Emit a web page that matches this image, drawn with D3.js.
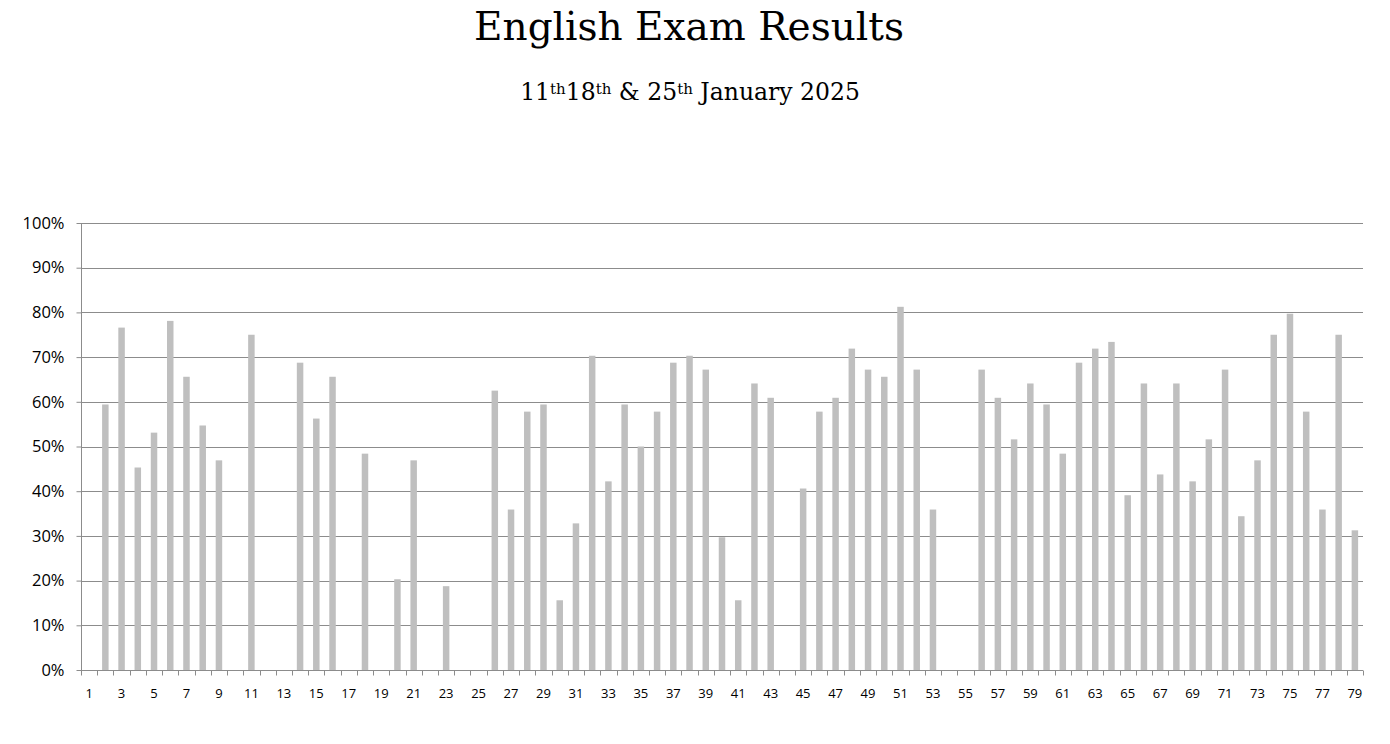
<!DOCTYPE html>
<meta charset="utf-8">
<style>
body { margin: 0; background: #fff; }
.title { font-family: 'DejaVu Serif', serif; font-size: 39px; }
.subtitle { font-family: 'DejaVu Serif', serif; font-size: 23.5px; }
.axis text { font-family: 'Open Sans', 'Liberation Sans', sans-serif; fill: #000; }
</style>
<script src="https://d3js.org/d3.v7.min.js"></script>
<div id="chart"></div>
<script>

// candidate numbers 1..79
var candidates = d3.range(1, 80).map(String);

// score as a fraction (0 = no result)
var scores = [
  0, 0.594, 0.766, 0.453, 0.531, 0.781, 0.656, 0.547, 0.469, 0,
  0.75, 0, 0, 0.6875, 0.5625, 0.656, 0, 0.484, 0, 0.203,
  0.469, 0, 0.1875, 0, 0, 0.625, 0.359, 0.578, 0.594, 0.156,
  0.328, 0.703, 0.422, 0.594, 0.50, 0.578, 0.6875, 0.703, 0.672, 0.297,
  0.156, 0.641, 0.609, 0, 0.406, 0.578, 0.609, 0.719, 0.672, 0.656,
  0.8125, 0.672, 0.359, 0, 0, 0.672, 0.609, 0.516, 0.641, 0.594,
  0.484, 0.6875, 0.719, 0.734, 0.391, 0.641, 0.4375, 0.641, 0.422, 0.516,
  0.672, 0.344, 0.469, 0.75, 0.797, 0.578, 0.359, 0.75, 0.3125
];

var yTicks = [0, 0.1, 0.2, 0.3, 0.4, 0.5, 0.6, 0.7, 0.8, 0.9, 1];

var data = candidates.map(function(c, i) { return {name: c, value: scores[i]}; });

var W = 1390, H = 744;
var margin = {top: 223, right: 27, bottom: 74, left: 81};
var width = W - margin.left - margin.right,
    height = H - margin.top - margin.bottom;

var svg = d3.select("#chart").append("svg")
    .attr("width", W)
    .attr("height", H);

svg.append("text")
    .attr("class", "title")
    .attr("x", 689)
    .attr("y", 40)
    .attr("text-anchor", "middle")
    .text("English Exam Results");

// subtitle with superscript "th"
var sub = svg.append("text")
    .attr("class", "subtitle")
    .attr("x", 690)
    .attr("y", 100)
    .attr("text-anchor", "middle");
var pieces = [["11", 0], ["th", -6], ["18", 6], ["th", -6], [" & 25", 6], ["th", -6], [" January 2025", 6]];
pieces.forEach(function(p) {
  var t = sub.append("tspan").attr("dy", p[1]).text(p[0]);
  if (p[0] === "th") t.style("font-size", "15px");
});

var g = svg.append("g")
    .attr("transform", "translate(" + margin.left + "," + margin.top + ")");

var x = d3.scaleBand()
    .domain(candidates)
    .range([0, width])
    .paddingInner(0.6)
    .paddingOuter(0.3);

var y = d3.scaleLinear()
    .domain([0, 1])
    .range([height, 0]);

// gridlines
g.append("g")
  .selectAll("line")
  .data(yTicks.slice(1))
  .enter().append("line")
    .attr("x1", 0)
    .attr("x2", width)
    .attr("y1", function(d) { return Math.round(y(d)) + 0.5; })
    .attr("y2", function(d) { return Math.round(y(d)) + 0.5; })
    .attr("stroke", "#8c8c8c");

// bars
g.append("g")
  .selectAll("rect")
  .data(data)
  .enter().append("rect")
    .attr("x", function(d) { return x(d.name); })
    .attr("y", function(d) { return y(d.value); })
    .attr("width", x.bandwidth())
    .attr("height", function(d) { return height - y(d.value); })
    .attr("fill", "#bfbfbf");

// y axis
var yAxis = g.append("g")
    .attr("class", "axis")
    .attr("transform", "translate(0.5,0)")
    .call(d3.axisLeft(y).tickValues(yTicks).tickFormat(d3.format(".0%")).tickSize(5).tickPadding(12));
yAxis.selectAll("text").style("font-size", "16.5px");
yAxis.selectAll("line").attr("stroke", "#8c8c8c");
yAxis.select(".domain").attr("stroke", "#8c8c8c").attr("d", "M0," + height + "V0");

// x axis: ticks on band edges, labels on every second band
var step = x.step();
var xAxis = g.append("g")
    .attr("class", "axis")
    .attr("transform", "translate(0," + (Math.round(height) + 0.5) + ")");
xAxis.append("line")
    .attr("x1", 0).attr("x2", width)
    .attr("stroke", "#8c8c8c");
xAxis.selectAll(".tick")
  .data(d3.range(candidates.length + 1))
  .enter().append("line")
    .attr("x1", function(i) { return Math.round(i * step) + 0.5; })
    .attr("x2", function(i) { return Math.round(i * step) + 0.5; })
    .attr("y1", 0).attr("y2", 5)
    .attr("stroke", "#8c8c8c");
xAxis.selectAll("text")
  .data(candidates.filter(function(c, i) { return i % 2 === 0; }))
  .enter().append("text")
    .attr("x", function(d) { return x(d) + x.bandwidth() / 2; })
    .attr("y", 27)
    .attr("text-anchor", "middle")
    .style("font-size", "13px")
    .text(function(d) { return d; });

</script>
